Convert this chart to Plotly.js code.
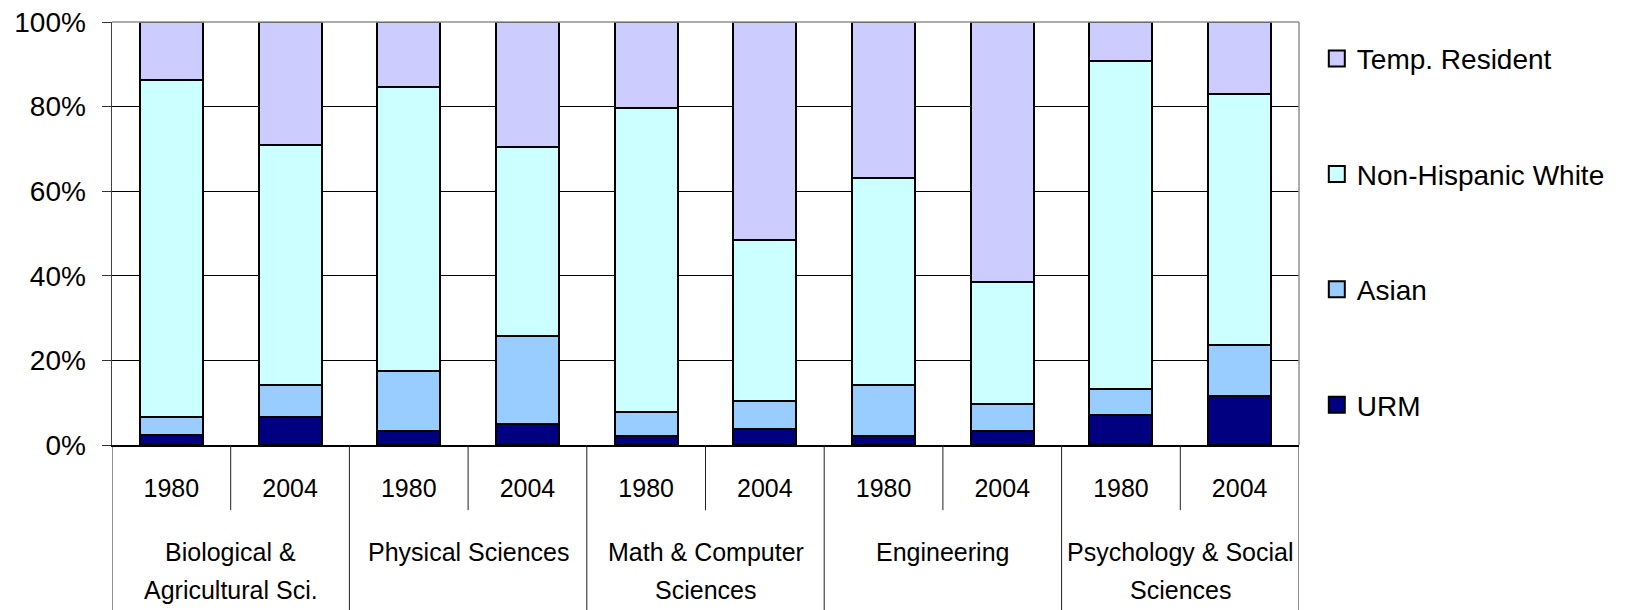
<!DOCTYPE html>
<html>
<head>
<meta charset="utf-8">
<script src="https://cdn.plot.ly/plotly-3.0.1.min.js"></script>
<style>
  html, body { margin: 0; padding: 0; background: #fff; }
  #chart { width: 1643px; height: 610px; }
</style>
</head>
<body>
<div id="chart"></div>
<script>
// ---- Data (percent of doctorates) ----
const groups = ["Biological &<br>Agricultural Sci.", "Physical Sciences", "Math & Computer<br>Sciences", "Engineering", "Psychology & Social<br>Sciences"];
const years = ["1980", "2004"];
const seriesNames = ["URM", "Asian", "Non-Hispanic White", "Temp. Resident"];
const urm   = [2.3, 6.6, 3.3, 4.9, 2.2, 3.9, 2.2, 3.2, 7.1, 11.5];
const asian = [4.3, 7.6, 14.3, 20.9, 5.5, 6.5, 12.0, 6.6, 6.1, 12.1];
const white = [79.7, 56.7, 67.1, 44.6, 72.0, 38.0, 49.0, 28.7, 77.5, 59.3];
const temp  = [13.7, 29.1, 15.3, 29.6, 20.3, 51.6, 36.8, 61.5, 9.3, 17.1];
const yTicks = [0, 20, 40, 60, 80, 100];

// ---- Styles ----
const colors = ["#000080", "#99CCFF", "#CCFFFF", "#CCCCFF"];
const mainFont = "Liberation Sans, Arial, sans-serif";
const plotH = 423;

const idx = [];
const tickText = [];
groups.forEach((g, gi) => years.forEach((y, yi) => { idx.push(gi * years.length + yi); tickText.push(y); }));

const values = [urm, asian, white, temp];
const traces = values.map((v, k) => ({
  type: "bar",
  name: seriesNames[k],
  x: idx,
  y: v,
  showlegend: false,
  marker: { color: colors[k], line: { color: "#000", width: 2 } },
  hoverinfo: "skip"
}));
// legend entries (square swatches), top-to-bottom = reverse of stacking order
values.forEach((v, k) => {
  traces.push({
    type: "scatter", mode: "markers",
    name: seriesNames[k],
    x: [null], y: [null],
    legendgroup: "g" + k,
    legendrank: values.length - k,
    marker: { symbol: "square", size: 16, color: colors[k], line: { color: "#000", width: 2 } },
    hoverinfo: "skip"
  });
});

// dividers below the axis
const shapes = [];
const nCat = idx.length;
for (let g = 0; g <= groups.length; g++) {
  shapes.push({ type: "line", xref: "x", yref: "paper", x0: g * 2 - 0.5, x1: g * 2 - 0.5, y0: 0, y1: -0.4, line: { color: "#202020", width: 1 } });
}
for (let g = 0; g < groups.length; g++) {
  shapes.push({ type: "line", xref: "x", yref: "paper", x0: g * 2 + 0.5, x1: g * 2 + 0.5, y0: 0, y1: -0.154, line: { color: "#202020", width: 1 } });
}
// plot border top/right (grey)
shapes.push({ type: "line", xref: "paper", yref: "paper", x0: 0, x1: 1, y0: 1, y1: 1, line: { color: "#909090", width: 1.5 } });
shapes.push({ type: "line", xref: "paper", yref: "paper", x0: 1, x1: 1, y0: 0, y1: 1, line: { color: "#909090", width: 1.5 } });

// group labels, one annotation per line
const annotations = [];
groups.forEach((g, gi) => {
  g.split("<br>").forEach((line, j) => {
    annotations.push({
      xref: "x", yref: "paper",
      x: gi * 2 + 0.5, y: -(107 + j * 38) / plotH,
      xanchor: "center", yanchor: "middle",
      text: line, showarrow: false,
      font: { family: mainFont, size: 25, color: "#000" }
    });
  });
});

const layout = {
  width: 1643, height: 610,
  margin: { l: 112, r: 344, t: 22, b: 165, pad: 0 },
  paper_bgcolor: "#fff", plot_bgcolor: "#fff",
  barmode: "stack",
  bargap: 0.47,
  showlegend: true,
  legend: {
    traceorder: "grouped",
    tracegroupgap: 76,
    x: 1.015, xanchor: "left",
    y: 0.972, yanchor: "top",
    font: { family: mainFont, size: 28, color: "#000" },
    bgcolor: "rgba(0,0,0,0)"
  },
  xaxis: {
    type: "linear",
    range: [-0.5, nCat - 0.5],
    tickvals: idx, ticktext: tickText,
    ticks: "",
    ticklabelstandoff: 20,
    showgrid: false, zeroline: false,
    showline: true, linecolor: "#000", linewidth: 1.5,
    tickfont: { family: mainFont, size: 25, color: "#000" },
    fixedrange: true
  },
  yaxis: {
    range: [0, 100],
    tickvals: yTicks,
    ticktext: yTicks.map(v => v + "%"),
    ticks: "outside", ticklen: 9, tickcolor: "#333", tickwidth: 1,
    ticklabelstandoff: 10,
    showgrid: true, gridcolor: "#000", gridwidth: 1,
    zeroline: false,
    showline: true, linecolor: "#404040", linewidth: 1.5,
    tickfont: { family: mainFont, size: 28, color: "#000" },
    fixedrange: true
  },
  shapes: shapes,
  annotations: annotations
};

Plotly.newPlot("chart", traces, layout, { staticPlot: true, displayModeBar: false });
</script>
</body>
</html>
